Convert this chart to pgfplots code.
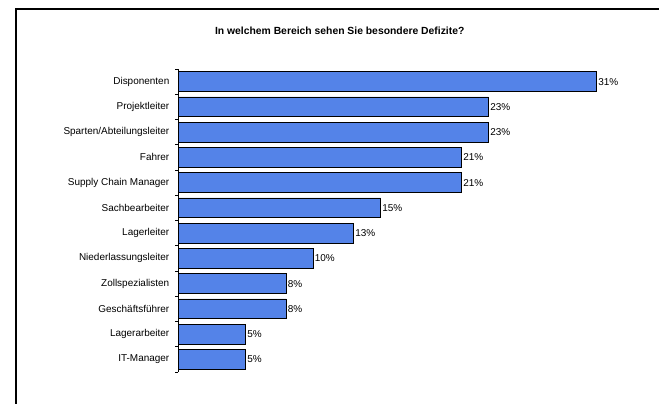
\documentclass[border=0pt]{standalone}
\usepackage{pgfplots}
\pgfplotsset{compat=1.18}
\usepackage{fontspec}
\setmainfont{Liberation Sans}
\definecolor{barblue}{RGB}{84,131,232}
\begin{document}
\begin{tikzpicture}[x=1bp,y=1bp]
\useasboundingbox (0,0) rectangle (659,403);
\draw[line width=1.3bp] (16,-5) -- (16,394) -- (670,394);
\node[font=\fontsize{10.4}{12}\selectfont\bfseries, anchor=base, inner sep=0pt] at (339.7,369) {In welchem Bereich sehen Sie besondere Defizite?};
\begin{axis}[
  at={(178bp,31bp)}, anchor=south west,
  scale only axis, width=472.5bp, height=303bp,
  xmin=0, xmax=35, ymin=0.5, ymax=12.5,
  axis x line=none, axis y line*=left,
  axis line style={black, line width=0.9bp},
  ytick={1,...,12},
  yticklabels={IT-Manager,Lagerarbeiter,Geschäftsführer,Zollspezialisten,Niederlassungsleiter,Lagerleiter,Sachbearbeiter,Supply Chain Manager,Fahrer,Sparten/Abteilungsleiter,Projektleiter,Disponenten},
  major tick length=0pt,
  minor ytick={0.5,1.5,...,12.5},
  minor tick length=3bp,
  tick align=outside,
  minor tick style={black, line width=0.9bp},
  yticklabel style={font=\fontsize{10}{12}\selectfont, inner sep=0bp, xshift=-8.5bp},
  xbar, bar width=0.79,
  point meta=x,
  nodes near coords={\pgfmathprintnumber[fixed,precision=0,assume math mode=true]{\pgfplotspointmeta}\%},
  nodes near coords style={font=\fontsize{10}{12}\selectfont, anchor=west, inner sep=1.5bp},
  clip=false,
]
\addplot[fill=barblue, draw=black, line width=0.8bp] table[x=v, y=y] {
y v
12 31
11 23
10 23
9 21
8 21
7 15
6 13
5 10
4 8
3 8
2 5
1 5
};
\end{axis}
\end{tikzpicture}
\end{document}
